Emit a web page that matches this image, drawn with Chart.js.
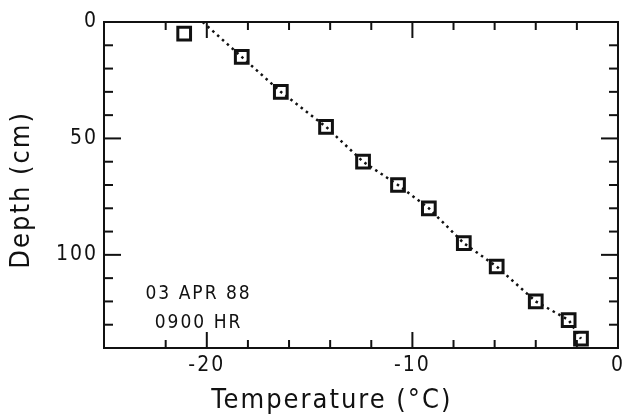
<!DOCTYPE html>
<html><head><meta charset="utf-8">
<script src="https://cdn.jsdelivr.net/npm/chart.js@4.4.1/dist/chart.umd.min.js"></script>
<style>html,body{margin:0;padding:0;background:#fff}#wrap{width:630px;height:417px}</style>
</head><body><div id="wrap"><canvas id="c" width="630" height="417"></canvas></div>
<script>
const temperatureC = [-21.1, -18.3, -16.4, -14.2, -12.4, -10.7, -9.2, -7.5, -5.9, -4.0, -2.4, -1.8];
const depthCm      = [5, 15, 30, 45, 60, 70, 80, 95, 105, 120, 128, 136];
// Dotted profile line vertices
const lineTempC    = [-20.2, -18.3, -16.4, -14.2, -12.4, -10.7, -9.2, -7.5, -5.9, -4.0, -2.4, -1.8];
const lineDepthCm  = [0, 15, 30, 45, 60, 70, 80, 95, 105, 120, 128, 136];
// Tick labels
const xTickLabels = [-20, -10, 0];
const yTickLabels = [0, 50, 100];
// Annotation
const annotationLines = ['03 APR 88', '0900 HR'];
const annotationTemp = -20.4;
const annotationDepth = [117, 129.5];

const FONT = "'Liberation Sans Narrow','DejaVu Sans Condensed','DejaVu Sans',sans-serif";
const INK = '#111';

const toPts = (xs, ys) => xs.map((v, i) => ({x: v, y: ys[i]}));

const spacing = {
  id: 'spacing',
  beforeUpdate(ch) { ch.ctx.letterSpacing = '2px'; },
  beforeDraw(ch) { ch.ctx.letterSpacing = '2px'; }
};

const frameTicks = {
  id: 'frameTicks',
  afterDatasetsDraw(ch) {
    const {ctx, chartArea: a, scales: {x, y}} = ch;
    ctx.save();
    ctx.strokeStyle = INK;
    ctx.lineWidth = 2;
    ctx.strokeRect(a.left, a.top, a.right - a.left, a.bottom - a.top);
    const seg = (x1, y1, x2, y2) => { ctx.beginPath(); ctx.moveTo(x1, y1); ctx.lineTo(x2, y2); ctx.stroke(); };
    x.ticks.forEach(t => {
      const v = t.value;
      if (v <= x.min || v >= x.max) return;
      const px = x.getPixelForValue(v);
      const L = xTickLabels.includes(v) ? 16 : 8;
      seg(px, a.bottom, px, a.bottom - L);
      seg(px, a.top, px, a.top + L);
    });
    y.ticks.forEach(t => {
      const v = t.value;
      if (v <= y.min || v >= y.max) return;
      const py = y.getPixelForValue(v);
      const L = yTickLabels.includes(v) ? 17 : 9;
      seg(a.left, py, a.left + L, py);
      seg(a.right, py, a.right - L, py);
    });
    ctx.restore();
  },
  afterDraw(ch) {
    const {ctx, scales: {x, y}} = ch;
    ctx.save();
    ctx.letterSpacing = '2px';
    ctx.fillStyle = INK;
    ctx.font = '19px ' + FONT;
    ctx.textAlign = 'center';
    ctx.textBaseline = 'middle';
    annotationLines.forEach((s, i) => {
      ctx.fillText(s, x.getPixelForValue(annotationTemp), y.getPixelForValue(annotationDepth[i]));
    });
    ctx.restore();
  }
};

new Chart(document.getElementById('c'), {
  type: 'scatter',
  data: {
    datasets: [
      {
        label: 'profile line',
        data: toPts(lineTempC, lineDepthCm),
        showLine: true,
        borderColor: INK,
        borderWidth: 2.5,
        borderDash: [2.5, 4],
        pointRadius: 0,
        fill: false
      },
      {
        label: 'temperature',
        data: toPts(temperatureC, depthCm),
        pointStyle: 'rect',
        pointRadius: 9,
        borderWidth: 3,
        borderColor: INK,
        backgroundColor: '#fff'
      }
    ]
  },
  options: {
    responsive: false,
    animation: false,
    events: [],
    layout: {padding: {top: 22, right: 7, left: 0, bottom: 0}},
    plugins: {legend: {display: false}, tooltip: {enabled: false}},
    scales: {
      x: {
        type: 'linear', min: -25, max: 0,
        ticks: {
          stepSize: 2, autoSkip: false, maxRotation: 0, padding: 5,
          color: INK, font: {family: FONT, size: 21},
          callback: v => xTickLabels.includes(v) ? String(v) : ''
        },
        grid: {display: false, drawTicks: false},
        border: {display: false},
        title: {display: true, text: 'Temperature (°C)      ', color: INK, font: {family: FONT, size: 27}, padding: {top: 0, bottom: 0}},
        afterFit: s => { s.height = 69; }
      },
      y: {
        type: 'linear', min: 0, max: 140, reverse: true,
        ticks: {
          stepSize: 10, autoSkip: false, padding: 6,
          color: INK, font: {family: FONT, size: 21},
          callback: v => yTickLabels.includes(v) ? String(v) : ''
        },
        grid: {display: false, drawTicks: false},
        border: {display: false},
        title: {display: true, text: 'Depth (cm) ', color: INK, font: {family: FONT, size: 27}, padding: {top: 6, bottom: 0}},
        afterFit: s => { s.width = 104; }
      }
    }
  },
  plugins: [spacing, frameTicks]
});
</script>
</body></html>
